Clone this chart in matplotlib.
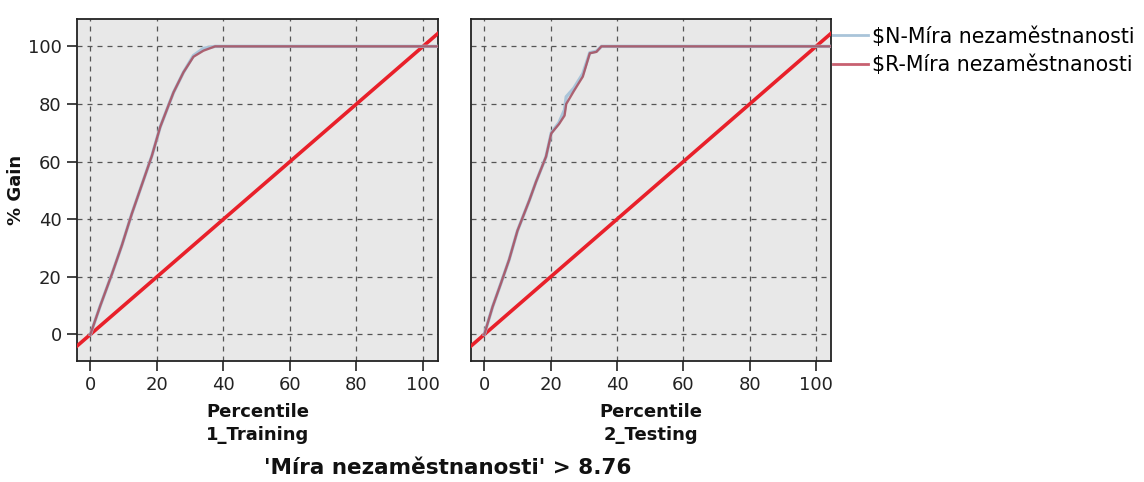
import matplotlib
matplotlib.use("Agg")
import matplotlib.pyplot as plt
from matplotlib.lines import Line2D

# Data
train_x = [0, 3, 6.5, 9.5, 12.5, 15.5, 18.5, 21, 25, 28, 31, 34, 37.5, 104.5]
train_n = [0, 10, 21, 31, 42, 52, 62, 72, 84, 91, 96.8, 99.3, 100, 100]
train_r = [0, 10, 21, 31, 42, 52, 62, 72, 84, 91, 96.4, 98.5, 100, 100]

test_x = [0, 2.5, 5, 7.5, 10, 13.6, 15.6, 18.6, 20.2, 22.5, 24.2, 24.7, 27, 29.7, 31.8, 33.8, 35.3, 104.5]
test_n = [0, 9.6, 17.7, 26, 36, 46.6, 53, 61.7, 70, 73.5, 78, 82.5, 85.5, 90.5, 97.8, 98.3, 100, 100]
test_r = [0, 9.6, 17.7, 26, 36, 46.6, 53, 61.7, 69.8, 73, 76, 80, 84.5, 89.5, 97.6, 98.1, 100, 100]

diag_x = [-5, 106]
diag_y = [-5, 106]

xticks = [0, 20, 40, 60, 80, 100]
yticks = [0, 20, 40, 60, 80, 100]
panel_labels = ["Percentile\n1_Training", "Percentile\n2_Testing"]
legend_labels = ["$N-Míra nezaměstnanosti", "$R-Míra nezaměstnanosti"]
title = "'Míra nezaměstnanosti' > 8.76"

plt.rcParams['font.family'] = ['DejaVu Sans']

fig = plt.figure(figsize=(11.44, 4.82), dpi=100)
W, H = 1144, 482
ax1 = fig.add_axes([77 / W, 1 - 361 / H, (438 - 77) / W, (361 - 19) / H])
ax2 = fig.add_axes([471 / W, 1 - 361 / H, (831 - 471) / W, (361 - 19) / H])

c_n = '#a9c4d9'
c_r = '#a85464'
c_diag = '#e8202a'

for ax, xs, yn, yr, lab in [(ax1, train_x, train_n, train_r, panel_labels[0]),
                            (ax2, test_x, test_n, test_r, panel_labels[1])]:
    ax.set_facecolor('#e8e8e8')
    ax.plot(diag_x, diag_y, color=c_diag, lw=2.6, zorder=3)
    ax.plot(xs, yn, color=c_n, lw=2.4, zorder=4)
    ax.plot(xs, yr, color=c_r, lw=1.7, zorder=5, alpha=0.9)
    ax.set_xlim(-4, 104.5)
    ax.set_ylim(-9.2, 109.5)
    ax.set_xticks(xticks)
    ax.set_yticks(yticks)
    ax.grid(True, color='#555555', linestyle=(0, (4, 4)), lw=0.9, zorder=1)
    ax.set_axisbelow(True)
    for s in ax.spines.values():
        s.set_color('#222222')
        s.set_linewidth(1.3)
    ax.tick_params(axis='both', direction='out', length=7, width=1.2,
                   colors='#222222', labelsize=13, pad=4)
    ax.set_xlabel(lab, fontsize=13, fontweight='bold', color='#111111', labelpad=6,
                  linespacing=1.4)

ax1.set_ylabel('% Gain', fontsize=13, fontweight='bold', color='#111111', labelpad=2)
ax2.tick_params(axis='y', left=False, labelleft=False)

handles = [Line2D([0], [0], color=c_n, lw=2), Line2D([0], [0], color='#c86070', lw=2)]
fig.legend(handles, legend_labels, loc='upper left', bbox_to_anchor=(833 / W, 1 - 26 / H),
           frameon=False, fontsize=14.8, handlelength=1.7, handletextpad=0.2,
           labelspacing=0.4, borderaxespad=0, borderpad=0)

fig.text(448 / W, 1 - 468 / H, title, fontsize=15.5, fontweight='bold',
         ha='center', va='center', color='#111111')

fig.savefig('out.png', dpi=100)
